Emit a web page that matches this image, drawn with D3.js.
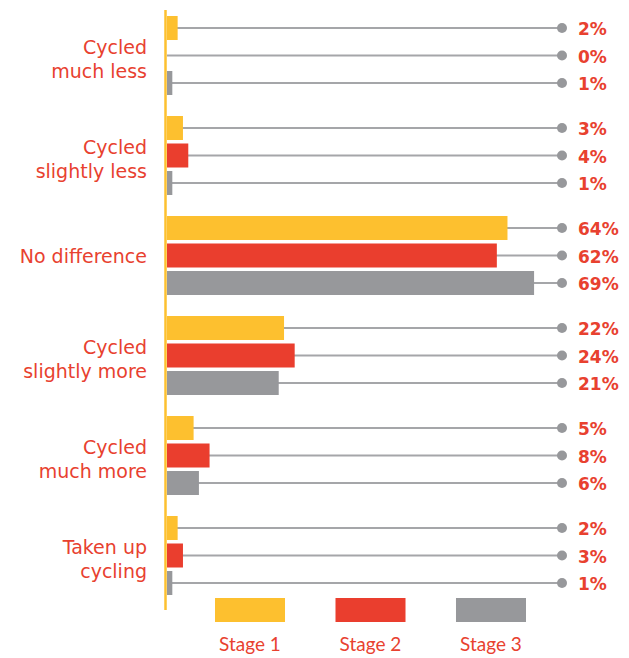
<!DOCTYPE html>
<html>
<head>
<meta charset="utf-8">
<script src="https://cdn.jsdelivr.net/npm/d3@7"></script>
<style>
body { margin: 0; background: #fff; }
text { font-family: "DejaVu Sans", sans-serif; }
</style>
</head>
<body>
<div id="chart"></div>
<script>
var categories = [["Cycled", "much less"], ["Cycled", "slightly less"], ["No difference"],
	["Cycled", "slightly more"], ["Cycled", "much more"], ["Taken up", "cycling"]];
var stages = ["Stage 1", "Stage 2", "Stage 3"];
var stage1 = [2, 3, 64, 22, 5, 2];
var stage2 = [0, 4, 62, 24, 8, 3];
var stage3 = [1, 1, 69, 21, 6, 1];

var colors = ["#fdc02f", "#ea3e2e", "#97989b"];
var red = "#e8412f";
var series = [stage1, stage2, stage3];

var svg = d3.select("#chart").append("svg").attr("width", 629).attr("height", 658);

var x = d3.scaleLinear().domain([0, 100]).range([167, 699]);
var y = d3.scaleBand().domain(d3.range(categories.length)).range([16, 616]);
var yInner = d3.scaleBand().domain(d3.range(stages.length)).range([0, 79]).paddingInner(0.127);
var dotX = 562;

var rows = [];
categories.forEach(function(c, i){
	series.forEach(function(s, j){
		rows.push({cat: i, stage: j, value: s[i]});
	});
});

function midY(d){ return y(d.cat) + yInner(d.stage) + yInner.bandwidth()/2; }

//guide lines + dots
svg.selectAll(".guide").data(rows).enter()
	.append("line")
	.attr("class", "guide")
	.attr("x1", x(0))
	.attr("x2", dotX)
	.attr("y1", midY)
	.attr("y2", midY)
	.style("stroke", "#a5a6a9")
	.style("stroke-width", 2);

svg.selectAll(".dot").data(rows).enter()
	.append("circle")
	.attr("class", "dot")
	.attr("cx", dotX)
	.attr("cy", midY)
	.attr("r", 5)
	.style("fill", "#97989b");

svg.selectAll(".bar").data(rows).enter()
	.append("rect")
	.attr("class", "bar")
	.attr("x", x(0))
	.attr("y", function(d){ return y(d.cat) + yInner(d.stage); })
	.attr("width", function(d){ return x(d.value) - x(0); })
	.attr("height", yInner.bandwidth())
	.style("fill", function(d){ return colors[d.stage]; });

svg.selectAll(".pct").data(rows).enter()
	.append("text")
	.attr("class", "pct")
	.attr("x", 578)
	.attr("y", function(d){ return midY(d) + 1; })
	.attr("dy", "0.36em")
	.style("font-size", "17px")
	.style("font-weight", "bold")
	.style("fill", red)
	.text(function(d){ return d.value + "%"; });

//axis line
svg.append("line")
	.attr("x1", 165.5).attr("x2", 165.5)
	.attr("y1", 10).attr("y2", 610)
	.style("stroke", "#fdc02f")
	.style("stroke-width", 2.5);

//category labels
var lab = svg.selectAll(".cat").data(categories).enter()
	.append("text")
	.attr("class", "cat")
	.attr("text-anchor", "end")
	.style("font-size", "19px")
	.style("fill", red);
lab.each(function(d, i){
	var t = d3.select(this);
	var cy = y(i) + 40 + (d.length > 1 ? 3 : 0);
	d.forEach(function(line, k){
		t.append("tspan")
			.attr("x", 147)
			.attr("y", cy + (k - (d.length - 1)/2)*24)
			.attr("dy", "0.35em")
			.text(line);
	});
});

//legend
var lx = d3.scaleBand().domain(stages).range([215, 526]).paddingInner(0.419);
svg.selectAll(".leg").data(stages).enter()
	.append("rect")
	.attr("x", function(d){ return lx(d); })
	.attr("y", 598)
	.attr("width", lx.bandwidth())
	.attr("height", 24)
	.style("fill", function(d, i){ return colors[i]; });
svg.selectAll(".legtext").data(stages).enter()
	.append("text")
	.attr("x", function(d){ return lx(d) + lx.bandwidth()/2; })
	.attr("y", 644)
	.attr("dy", "0.35em")
	.attr("text-anchor", "middle")
	.style("font-family", "Lato, sans-serif")
	.style("font-size", "19px")
	.style("fill", red)
	.text(function(d){ return d; });
</script>
</body>
</html>
